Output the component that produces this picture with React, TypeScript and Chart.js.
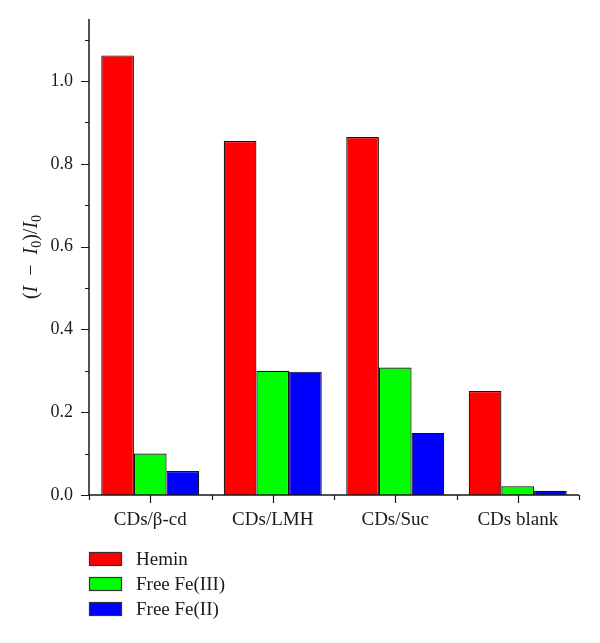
import React, { useEffect, useRef } from "react";
import { Chart, registerables } from "chart.js";

Chart.register(...registerables);

const categories = ["CDs/β-cd", "CDs/LMH", "CDs/Suc", "CDs blank"];
const seriesNames = ["Hemin", "Free Fe(III)", "Free Fe(II)"];
const heminValues = [1.062, 0.855, 0.865, 0.251];
const feIIIValues = [0.1, 0.3, 0.308, 0.021];
const feIIValues = [0.058, 0.298, 0.15, 0.01];
const seriesColors = ["#ff0000", "#00ff00", "#0000ff"];
const yMajorTicks = [0, 0.2, 0.4, 0.6, 0.8, 1.0];
const yMinorTicks = [0.1, 0.3, 0.5, 0.7, 0.9, 1.1];
const yMax = 1.15;

const FONT = "'Liberation Serif', 'Times New Roman', serif";
const INK = "#1a1a1a";

const decorPlugin = {
  id: "decor",
  afterDraw(chart: any) {
    const { ctx, chartArea } = chart;
    const { left, right, top, bottom } = chartArea;
    const x = chart.scales.x;
    const y = chart.scales.y;
    ctx.save();
    ctx.strokeStyle = INK;
    ctx.lineCap = "butt";
    // axes
    ctx.lineWidth = 1.5;
    ctx.beginPath();
    ctx.moveTo(left, top);
    ctx.lineTo(left, bottom);
    ctx.lineTo(right, bottom);
    ctx.stroke();
    // y ticks
    ctx.lineWidth = 1.2;
    ctx.beginPath();
    for (const v of yMajorTicks) {
      const py = Math.round(y.getPixelForValue(v)) + 0.5;
      ctx.moveTo(left - 8, py);
      ctx.lineTo(left, py);
    }
    for (const v of yMinorTicks) {
      const py = Math.round(y.getPixelForValue(v)) + 0.5;
      ctx.moveTo(left - 4, py);
      ctx.lineTo(left, py);
    }
    // x ticks
    for (let i = 0; i < categories.length; i++) {
      const px = Math.round(x.getPixelForValue(i)) + 0.5;
      ctx.moveTo(px, bottom);
      ctx.lineTo(px, bottom + 8);
    }
    for (let i = 0; i <= categories.length; i++) {
      const px = Math.round(x.getPixelForValue(i - 0.5)) + 0.5;
      ctx.moveTo(px, bottom);
      ctx.lineTo(px, bottom + 5);
    }
    ctx.stroke();

    // y title: (I − I0)/I0
    const size = 20;
    const normal = `${size}px ${FONT}`;
    const italic = `italic ${size}px ${FONT}`;
    const sub = `${Math.round(size * 0.68)}px ${FONT}`;
    const pieces: [string, string, number][] = [
      ["(", normal, 0],
      ["I", italic, 0],
      ["  −  ", normal, 0],
      ["I", italic, 0],
      ["0", sub, 5],
      [")/", normal, 0],
      ["I", italic, 0],
      ["0", sub, 5],
    ];
    let total = 0;
    const widths = pieces.map(([t, f]) => {
      ctx.font = f;
      const w = ctx.measureText(t).width;
      total += w;
      return w;
    });
    ctx.translate(32, (top + bottom) / 2);
    ctx.rotate(-Math.PI / 2);
    ctx.fillStyle = INK;
    ctx.textBaseline = "middle";
    ctx.textAlign = "left";
    let cx = -total / 2;
    pieces.forEach(([t, f, dy], i) => {
      ctx.font = f;
      ctx.fillText(t, cx, dy);
      cx += widths[i];
    });
    ctx.setTransform(1, 0, 0, 1, 0, 0);

    // legend
    const datasets = chart.data.datasets;
    ctx.font = `19px ${FONT}`;
    ctx.textBaseline = "middle";
    ctx.textAlign = "left";
    datasets.forEach((ds: any, i: number) => {
      const by = 552 + i * 25;
      ctx.fillStyle = ds.backgroundColor;
      ctx.fillRect(89, by, 33, 14);
      ctx.strokeStyle = "#333";
      ctx.lineWidth = 1.2;
      ctx.strokeRect(89.5, by + 0.5, 32, 13);
      ctx.fillStyle = INK;
      ctx.fillText(ds.label, 136, by + 8);
    });
    ctx.restore();
  },
};

export default function App() {
  const ref = useRef<HTMLCanvasElement | null>(null);
  useEffect(() => {
    document.body.style.margin = "0";
    if (!ref.current) return;
    const values = [heminValues, feIIIValues, feIIValues];
    const chart = new Chart(ref.current, {
      type: "bar",
      data: {
        labels: categories,
        datasets: seriesNames.map((name, i) => ({
          label: name,
          data: values[i],
          backgroundColor: seriesColors[i],
          borderColor: "#111",
          borderWidth: 1.2,
          categoryPercentage: 0.8,
          barPercentage: 1.0,
        })),
      },
      options: {
        responsive: false,
        animation: false,
        devicePixelRatio: 1,
        layout: { padding: { top: 19, right: 21, left: 0, bottom: 98 } },
        plugins: {
          legend: { display: false },
          tooltip: { enabled: false },
        },
        scales: {
          x: {
            grid: { display: false, drawTicks: false },
            border: { display: false },
            ticks: {
              padding: 14,
              color: INK,
              font: { family: FONT, size: 19 },
              maxRotation: 0,
            },
            afterFit: (s: any) => {
              s.height = 50;
              s.paddingLeft = 0;
              s.paddingRight = 0;
            },
          },
          y: {
            min: 0,
            max: yMax,
            grid: { display: false, drawTicks: false },
            border: { display: false },
            afterBuildTicks: (s: any) => {
              s.ticks = yMajorTicks.map((v) => ({ value: v }));
            },
            ticks: {
              padding: 16,
              color: INK,
              font: { family: FONT, size: 18 },
              callback: (v: any) => Number(v).toFixed(1),
            },
            afterFit: (s: any) => {
              s.width = 89;
              s.paddingTop = 0;
              s.paddingBottom = 0;
            },
          },
        },
      },
      plugins: [decorPlugin],
    });
    return () => chart.destroy();
  }, []);
  return (
    <div style={{ width: 600, height: 643, background: "#fff" }}>
      <canvas ref={ref} width={600} height={643} />
    </div>
  );
}
